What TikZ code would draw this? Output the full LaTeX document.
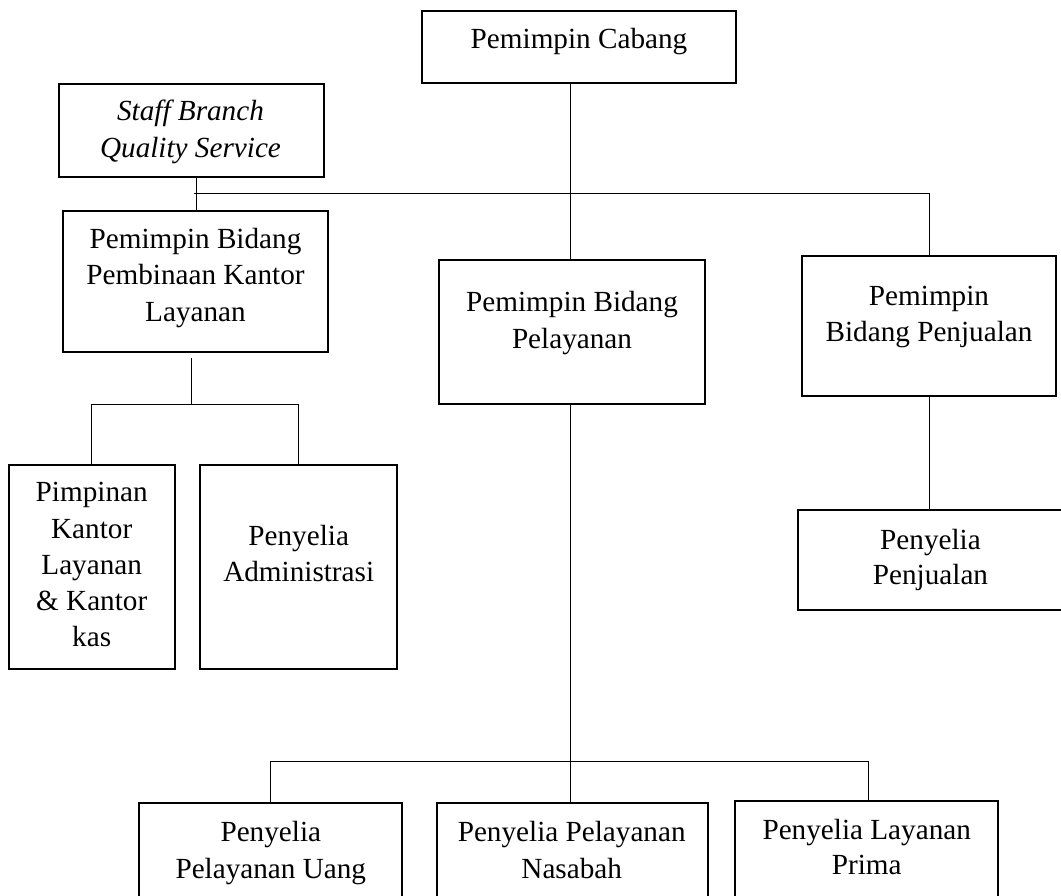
\documentclass[tikz,border=0pt]{standalone}
\usepackage{fontspec}
\setmainfont{Liberation Serif}
\begin{document}
\begin{tikzpicture}[x=1pt,y=-1pt,
  box/.style={draw=black, line width=2pt, rectangle, inner sep=0pt},
  txt/.style={anchor=base, align=center, inner sep=0pt, font=\fontsize{29.2}{36.5}\selectfont},
  conn/.style={draw=black, line width=1pt}]
\useasboundingbox (0,0) rectangle (1061,895);
\clip (0,0) rectangle (1061,895);
% boxes
\node[box, minimum width=314pt, minimum height=72pt] (pc) at (579,47) {};
\node[box, minimum width=265pt, minimum height=93pt] (sbqs) at (191,130.5) {};
\node[box, minimum width=265pt, minimum height=141pt] (pbpkl) at (195.5,281.5) {};
\node[box, minimum width=266pt, minimum height=144pt] (pbp) at (572.3,332.2) {};
\node[box, minimum width=253.4pt, minimum height=140.5pt] (pbpj) at (929,326.2) {};
\node[box, minimum width=165.8pt, minimum height=203.4pt] (pim) at (91.7,567) {};
\node[box, minimum width=197pt, minimum height=203.4pt] (padm) at (298.7,567) {};
\node[box, minimum width=276.7pt, minimum height=100pt] (ppj) at (936.6,560) {};
\node[box, minimum width=262.7pt, minimum height=116.7pt] (ppu) at (270.4,861.6) {};
\node[box, minimum width=271.6pt, minimum height=116.7pt] (ppn) at (572.5,861.6) {};
\node[box, minimum width=262.7pt, minimum height=119pt] (plp) at (866.4,860.5) {};
% texts (anchored at the baseline of the last line)
\node[txt] (pc-t) at (579,48.3) {Pemimpin Cabang};
\node[txt, font=\fontsize{29.2}{37}\selectfont\itshape] (sbqs-t) at (190.5,157.7) {Staff Branch\\Quality Service};
\node[txt] (pbpkl-t) at (195.5,321) {Pemimpin Bidang\\Pembinaan Kantor\\Layanan};
\node[txt] (pbp-t) at (572,348.2) {Pemimpin Bidang\\Pelayanan};
\node[txt] (pbpj-t) at (929,341.5) {Pemimpin\\Bidang Penjualan};
\node[txt, font=\fontsize{29.2}{36.3}\selectfont] (pim-t) at (91.7,646.9) {Pimpinan\\Kantor\\Layanan\\\& Kantor\\kas};
\node[txt] (padm-t) at (298.7,581.5) {Penyelia\\Administrasi};
\node[txt, font=\fontsize{29.2}{35.5}\selectfont] (ppj-t) at (930.5,584.8) {Penyelia\\Penjualan};
\node[txt, font=\fontsize{29.2}{37}\selectfont] (ppu-t) at (270.8,878) {Penyelia\\Pelayanan Uang};
\node[txt, font=\fontsize{29.2}{36.5}\selectfont] (ppn-t) at (571.7,878.2) {Penyelia Pelayanan\\Nasabah};
\node[txt, font=\fontsize{29.2}{35.5}\selectfont] (plp-t) at (866.7,874.8) {Penyelia Layanan\\Prima};
% junction coordinates
\coordinate (hl) at (194.4,193.7);
\coordinate (hc) at (570,193.7);
\coordinate (hr) at (929.4,193.7);
\coordinate (k0) at (191.4,358);
\coordinate (k1) at (191.4,404);
\coordinate (kl) at (91.3,404);
\coordinate (kr) at (298.4,404);
\coordinate (bc) at (570,761.7);
\coordinate (bl) at (270,761.7);
\coordinate (br) at (868,761.7);
% connectors
\draw[conn] (pc.south -| hc) -- (pbp.north -| hc);
\draw[conn] (hl) -- (hr) -- (pbpj.north -| hr);
\draw[conn] (sbqs.south -| 196,0) -- (pbpkl.north -| 196,0);
\draw[conn] (k0) -- (k1);
\draw[conn] (pim.north -| kl) -- (kl) -- (kr) -- (padm.north -| kr);
\draw[conn] (pbp.south -| bc) -- (bc);
\draw[conn] (ppu.north -| bl) -- (bl) -- (br) -- (plp.north -| br);
\draw[conn] (bc) -- (ppn.north -| bc);
\draw[conn] (pbpj.south -| 929,0) -- (ppj.north -| 929,0);
\end{tikzpicture}
\end{document}
